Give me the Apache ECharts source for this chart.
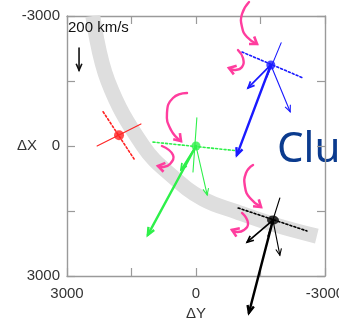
<!DOCTYPE html>
<html>
<head>
<meta charset="utf-8">
<script src="https://cdn.jsdelivr.net/npm/echarts@6/dist/echarts.min.js"></script>
<style>
  html, body { margin: 0; padding: 0; background: #fff; }
  #chart { width: 339px; height: 324px; }
</style>
</head>
<body>
<div id="chart"></div>
<script>
// Axis extents and tick labels (km), x = ΔY (reversed), y = ΔX (reversed)
const axisMin = -3000;
const axisMax = 3000;
const tickStep = 1500;
const labelledTicks = [-3000, 0, 3000];

// Boundary band centre line [ΔY, ΔX]
const bandPath = [[2400, -3000], [2050, -1500], [1230, 0], [560, 690], [-160, 1220],
                  [-950, 1520], [-1840, 1820], [-2810, 2080]];

// Spacecraft positions [ΔY, ΔX]: red, green, blue, black
const scPositions = [[1790, -250], [0, 0], [-1740, -1870], [-1790, 1710]];

// Boundary normal (solid) and boundary tangent (dotted) segments per spacecraft
const normalSegments = [
  [[2300, 0], [1280, -510]],
  [[-20, -650], [70, 600]],
  [[-1980, -2380], [-1650, -1590]],
  [[-1950, 1200], [-1670, 2080]]
];
const tangentSegments = [
  [[2160, -790], [1440, 300]],
  [[1000, -90], [-950, 110]],
  [[-1070, -2170], [-2490, -1570]],
  [[-980, 1430], [-2580, 1960]]
];

// Velocity arrow tips (green, blue, black); each arrow starts at its spacecraft
const velocityTipsLarge = [[1120, 2050], [-950, 210], [-1230, 3850]];
const velocityTipsShort = [[350, 550], [-1210, -1340], [-1190, 2220]];
const velocityTipsThin = [[-260, 1130], [-2190, -790], [-1950, 2520]];

// Reference arrow (200 km/s)
const scaleArrow = [[2720, -2260], [2720, -1750]];

// Rotation-sense curves next to each spacecraft
const rotationCurves = [
  [[-1233, -3323], [-1070, -3046], [-1070, -2746], [-1186, -2515], [-1419, -2354]],
  [[-977, -2215], [-1093, -2031], [-1070, -1823], [-907, -1754], [-767, -1800]],
  [[209, -1223], [535, -1108], [675, -762], [581, -369], [349, -115]],
  [[791, 0], [535, 208], [605, 415], [767, 485], [884, 461]],
  [[-1326, 438], [-1163, 623], [-1140, 946], [-1256, 1200], [-1512, 1408]],
  [[-1070, 1546], [-1209, 1777], [-1116, 1938], [-953, 1985], [-837, 1938]]
];

const COLORS = ['#ff2222', '#2ef04a', '#1a1aff', '#000000'];
const PINK = '#ff3d9e';

function arrowHead(p1, p2, len, spread) {
  const ang = Math.atan2(p2[1] - p1[1], p2[0] - p1[0]);
  const a1 = ang + Math.PI - spread, a2 = ang + Math.PI + spread;
  return [[p2[0] + len * Math.cos(a1), p2[1] + len * Math.sin(a1)], p2,
          [p2[0] + len * Math.cos(a2), p2[1] + len * Math.sin(a2)]];
}

// One custom series draws straight segments, optionally with an arrow head
function segmentSeries(segs, colorOf, width, dash, head, z) {
  return {
    type: 'custom',
    coordinateSystem: 'cartesian2d',
    clip: false,
    z: z,
    data: segs.map(s => [s[0][0], s[0][1], s[1][0], s[1][1]]),
    encode: { x: [0, 2], y: [1, 3] },
    renderItem: function (params, api) {
      const p1 = api.coord([api.value(0), api.value(1)]);
      const p2 = api.coord([api.value(2), api.value(3)]);
      const color = colorOf(params.dataIndex);
      const children = [{
        type: 'line',
        shape: { x1: p1[0], y1: p1[1], x2: p2[0], y2: p2[1] },
        style: { stroke: color, lineWidth: width, lineDash: dash || null, lineCap: 'round' }
      }];
      if (head) {
        children.push({
          type: 'polyline',
          shape: { points: arrowHead(p1, p2, head, 0.42) },
          style: { stroke: color, lineWidth: width, fill: null, lineJoin: 'miter' }
        });
      }
      return { type: 'group', children: children };
    }
  };
}

function fromSc(tips, offset) {
  return tips.map((t, i) => [scPositions[i + offset], t]);
}

const series = [
  {
    type: 'line',
    data: bandPath,
    smooth: 0.4,
    symbol: 'none',
    z: 1,
    lineStyle: { color: '#dedede', width: 15, cap: 'butt' },
    silent: true
  },
  segmentSeries(tangentSegments, i => COLORS[i], 1.6, [2, 2.2], 0, 3),
  segmentSeries(normalSegments, i => COLORS[i], 1.1, null, 0, 3),
  segmentSeries(fromSc(velocityTipsThin, 1), i => COLORS[i + 1], 1.1, null, 7, 4),
  segmentSeries(fromSc(velocityTipsShort, 1), i => COLORS[i + 1], 1.7, null, 7, 4),
  segmentSeries(fromSc(velocityTipsLarge, 1), i => COLORS[i + 1], 2.4, null, 8, 5),
  segmentSeries([scaleArrow], () => '#111', 1.6, null, 7, 5),
  {
    type: 'custom',
    coordinateSystem: 'cartesian2d',
    clip: false,
    z: 6,
    data: rotationCurves.map((c, i) => [c[0][0], c[0][1], i]),
    renderItem: function (params, api) {
      const pts = rotationCurves[params.dataIndex].map(p => api.coord(p));
      const n = pts.length;
      return {
        type: 'group',
        children: [{
          type: 'polyline',
          shape: { points: pts, smooth: 0.5 },
          style: { stroke: PINK, lineWidth: 2.4, fill: null, lineCap: 'round' }
        }, {
          type: 'polyline',
          shape: { points: arrowHead(pts[n - 2], pts[n - 1], 8, 0.6) },
          style: { stroke: PINK, lineWidth: 2.6, fill: null, lineJoin: 'miter' }
        }]
      };
    }
  },
  {
    type: 'scatter',
    z: 7,
    data: scPositions.map((p, i) => ({
      value: p,
      symbolSize: i === 3 ? [12, 9] : (i === 0 ? 10 : 9),
      itemStyle: { color: COLORS[i] }
    }))
  }
];

const boxLine = { show: true, onZero: false, lineStyle: { color: '#9a9a9a', width: 1.4 } };
const boxTick = { show: true, inside: true, length: 8, lineStyle: { color: '#9a9a9a', width: 1.2 } };
const labelStyle = {
  color: '#333', fontSize: 15, fontFamily: 'Liberation Sans',
  formatter: v => (labelledTicks.indexOf(v) >= 0 ? String(v) : '')
};
const nameStyle = { color: '#333', fontSize: 15, fontFamily: 'Liberation Sans' };

const chart = echarts.init(document.getElementById('chart'), null, { renderer: 'canvas' });
chart.setOption({
  animation: false,
  backgroundColor: '#fff',
  grid: { left: 67, right: 14, top: 16, bottom: 48, outerBoundsMode: 'none', containLabel: false },
  xAxis: [{
    type: 'value', min: axisMin, max: axisMax, interval: tickStep, inverse: true,
    position: 'bottom',
    name: 'ΔY', nameLocation: 'middle', nameGap: 30, nameMoveOverlap: false,
    nameTextStyle: nameStyle,
    axisLine: boxLine, axisTick: boxTick, splitLine: { show: false },
    axisLabel: Object.assign({ margin: 10 }, labelStyle)
  }, {
    type: 'value', min: axisMin, max: axisMax, interval: tickStep, inverse: true,
    position: 'top',
    axisLine: boxLine, axisTick: boxTick, splitLine: { show: false },
    axisLabel: { show: false }
  }],
  yAxis: [{
    type: 'value', min: axisMin, max: axisMax, interval: tickStep, inverse: true,
    position: 'left',
    name: 'ΔX', nameLocation: 'middle', nameGap: 30, nameRotate: 0, nameMoveOverlap: false,
    nameTextStyle: nameStyle,
    axisLine: boxLine, axisTick: boxTick, splitLine: { show: false },
    axisLabel: Object.assign({ margin: 7 }, labelStyle)
  }, {
    type: 'value', min: axisMin, max: axisMax, interval: tickStep, inverse: true,
    position: 'right',
    axisLine: boxLine, axisTick: boxTick, splitLine: { show: false },
    axisLabel: { show: false }
  }],
  graphic: [{
    type: 'text', left: 68, top: 20, z: 10,
    style: { text: '200 km/s', fill: '#111', font: '15px "Liberation Sans"' }
  }, {
    type: 'text', left: 277, top: 129, z: 0,
    style: { text: 'Cluster', fill: '#0b3b8e', font: '42px "Noto Sans"' }
  }],
  series: series
});
</script>
</body>
</html>
